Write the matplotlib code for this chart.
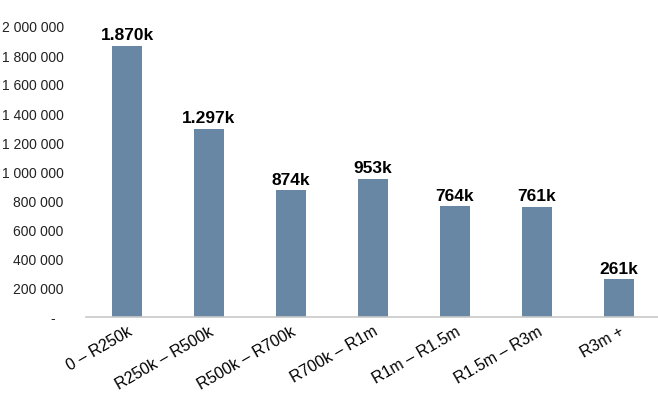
import matplotlib
matplotlib.use("Agg")
import matplotlib.pyplot as plt
from matplotlib.ticker import FuncFormatter

categories = ["0 – R250k", "R250k – R500k", "R500k – R700k", "R700k – R1m",
              "R1m – R1.5m", "R1.5m – R3m", "R3m +"]
values = [1870000, 1297000, 874000, 953000, 764000, 761000, 261000]
bar_labels = ["1.870k", "1.297k", "874k", "953k", "764k", "761k", "261k"]
yticks = [0, 200000, 400000, 600000, 800000, 1000000, 1200000,
          1400000, 1600000, 1800000, 2000000]


def fmt(v, pos):
    if v == 0:
        return "-  "
    return "{:,.0f}".format(v).replace(",", " ")


def main():
    fig = plt.figure(figsize=(6.58, 4.19), dpi=100)
    ax = fig.add_axes([86 / 658, 1 - 317 / 419, 574 / 658, 290 / 419])
    x = range(len(categories))
    ax.bar(x, values, width=0.37, color="#6787a4", zorder=2)

    # value labels on top of bars
    for i, v in enumerate(values):
        ax.text(i, v + 18000, bar_labels[i], ha="center", va="bottom",
                fontsize=12.5, fontweight="bold", family="Liberation Sans")

    ax.set_xlim(-0.5, len(categories) - 0.5)
    ax.set_ylim(0, 2000000)
    ax.set_yticks(yticks)
    ax.yaxis.set_major_formatter(FuncFormatter(fmt))
    ax.set_xticks(list(x))
    ax.set_xticklabels(categories, rotation=30, ha="right",
                       rotation_mode="anchor", fontsize=11.5,
                       family="Liberation Sans")
    for lab in ax.get_yticklabels():
        lab.set_family("Liberation Sans")
        lab.set_fontsize(10)
        lab.set_color("#222222")

    ax.tick_params(axis="y", length=0, pad=16)
    ax.tick_params(axis="x", length=0, pad=5)
    for s in ["top", "right", "left"]:
        ax.spines[s].set_visible(False)
    ax.spines["bottom"].set_color("#c8c8c8")
    ax.spines["bottom"].set_linewidth(1.2)

    fig.savefig("out.png", dpi=100)


if __name__ == "__main__":
    main()
